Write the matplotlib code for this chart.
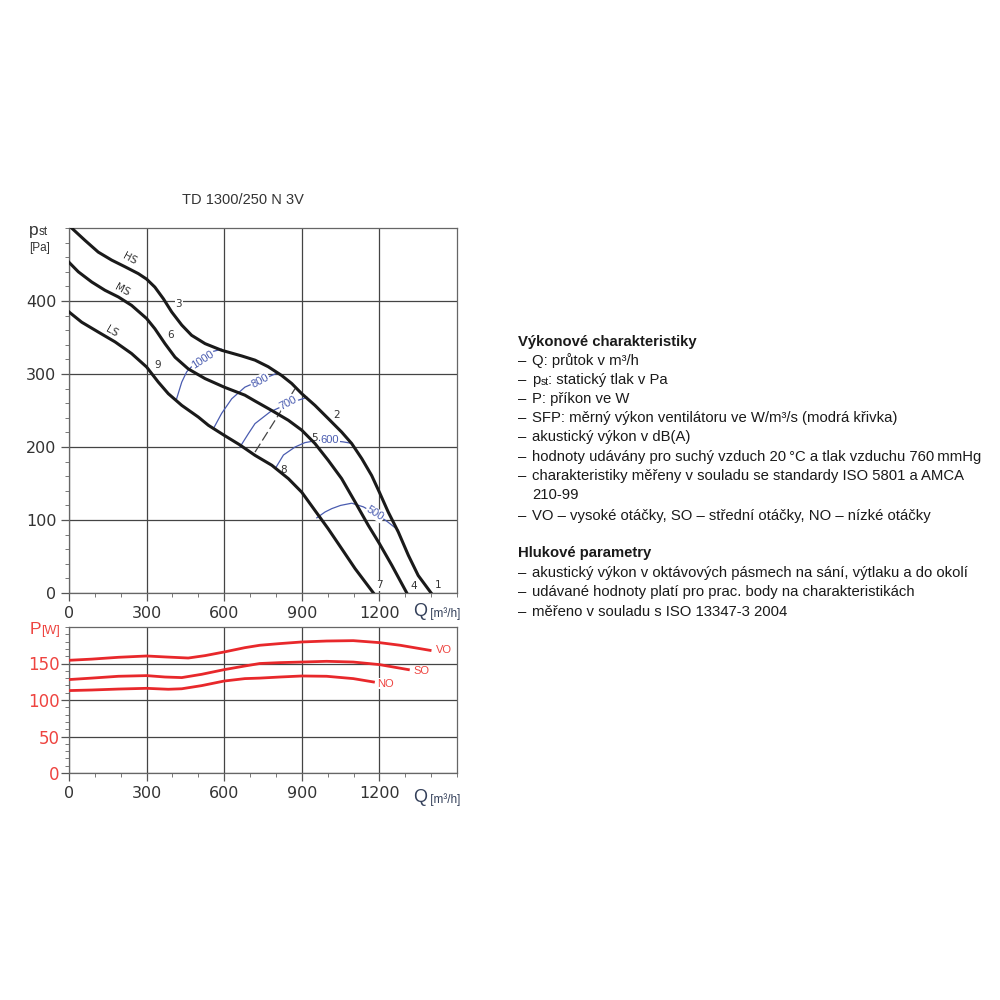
import matplotlib
matplotlib.use("Agg")
import matplotlib.pyplot as plt
from matplotlib.ticker import MultipleLocator

plt.rcParams['font.family'] = ['Liberation Sans', 'DejaVu Sans']

# charakteristiky ventilatoru (Q v m3/h, pst v Pa)
q_hs = [10, 62, 113, 165, 216, 268, 300, 332, 365, 397, 436, 474, 526, 590, 668, 719, 770, 822, 861,
        900, 951, 1002, 1054, 1093, 1132, 1170, 1200, 1234, 1273, 1312, 1350, 1400]
p_hs = [500, 483, 467, 456, 447, 437.5, 430, 419, 403, 385, 367, 353, 341.6, 332.5, 324.7, 319, 310, 298, 287,
        273, 257, 239, 220.5, 204.7, 184, 161, 138, 111, 83.6, 51.6, 24, 0]
q_ms = [0, 36, 88, 139, 191, 242, 300, 332, 371, 410, 461, 526, 600, 680, 719, 784, 848, 900, 951,
        1002, 1054, 1106, 1157, 1200, 1248, 1306]
p_ms = [453, 440, 426, 414.7, 405.5, 394, 376, 362, 341.6, 323, 307, 293.7, 282, 271, 263, 250, 236.6, 223, 204.7,
        181.8, 156.7, 124.7, 92.7, 67.7, 38, 0]
q_ls = [0, 49, 113, 178, 242, 300, 345, 384, 436, 500, 539, 600, 660, 719, 784, 848, 900, 951, 1002,
        1054, 1106, 1177]
p_ls = [385, 371, 357.5, 344, 328, 309.6, 289, 273, 257, 241, 229.7, 216, 203, 188.6, 175, 156.7, 138, 113, 88,
        60.8, 33.4, 0]

# SFP krivky (modre)
q_1000 = [416, 436, 455, 474, 517, 558, 590]
p_1000 = [266, 289, 303, 310, 320, 331, 334]
q_800 = [558, 590, 629, 680, 738, 803]
p_800 = [225, 246, 266, 282, 291, 301]
q_700 = [661, 693, 719, 777, 848, 920]
p_700 = [200, 218, 232, 248, 259.6, 268]
q_600 = [800, 829, 874, 912, 960, 1009, 1060, 1093]
p_600 = [172, 189, 200, 206, 209, 209, 207, 205]
q_500 = [958, 990, 1016, 1050, 1093, 1138, 1183, 1230, 1273]
p_500 = [103, 111, 115.6, 120, 123, 118, 109, 98, 86]
q_dash = [719, 874]
p_dash = [193, 280]

# prikon (W)
q_vo = [0, 88, 191, 300, 371, 461, 526, 600, 680, 738, 816, 900, 996, 1099, 1200, 1280, 1396]
p_vo = [154.4, 156, 158.5, 160.3, 159, 157.5, 160.8, 165.8, 171.7, 175, 177.3, 179.5, 180.8, 181.3, 178.6, 175, 168]
q_so = [0, 88, 191, 300, 371, 436, 513, 600, 680, 738, 816, 900, 996, 1099, 1200, 1312]
p_so = [128, 130, 132.5, 133.4, 131.5, 130.7, 135.2, 141.6, 146.6, 150, 151.2, 152, 153, 152, 148.5, 141.6]
q_no = [0, 88, 191, 300, 384, 436, 513, 600, 680, 738, 816, 900, 996, 1099, 1177]
p_no = [112.9, 113.7, 115, 116, 114.7, 115.4, 119.7, 126, 129.3, 130, 131.5, 132.9, 132.5, 129.3, 124.7]

x_ticks = [0, 300, 600, 900, 1200]
y_ticks_top = [0, 100, 200, 300, 400]
y_ticks_bot = [0, 50, 100, 150]

body_pts = ['1', '2', '3', '4', '5', '6', '7', '8', '9']
body_q = [1428, 1035, 425, 1331, 950, 393, 1200, 830, 343]
body_p = [10.5, 244, 395.5, 9.6, 212, 354, 10.5, 168, 312]

DARK = '#333333'
BLUE = '#4a5cb0'
RED = '#e8282b'
REDTXT = '#ee4440'
QCOL = '#34405a'

fig = plt.figure(figsize=(10, 10), dpi=100)

def style_axes(ax, ymax, yminor, ycol, ypad, ytick_size):
    ax.set_xlim(0, 1500)
    ax.set_ylim(0, ymax)
    ax.set_xticks(x_ticks)
    ax.xaxis.set_minor_locator(MultipleLocator(100))
    ax.yaxis.set_minor_locator(MultipleLocator(yminor))
    ax.grid(True, which='major', color='#444444', lw=0.9)
    ax.set_axisbelow(True)
    for s in ax.spines.values():
        s.set_color('#666666')
        s.set_linewidth(0.9)
    ax.tick_params(which='major', direction='out', length=6, width=0.9, color='#555555')
    ax.tick_params(which='minor', direction='out', length=3, width=0.7, color='#777777')
    ax.tick_params(axis='x', labelsize=11.5, labelcolor=DARK, pad=3)
    ax.tick_params(axis='y', labelsize=ytick_size, labelcolor=ycol, pad=ypad)
    for lab in ax.get_xticklabels() + ax.get_yticklabels():
        lab.set_family('DejaVu Sans')

# --- horni graf: pst ---
ax = fig.add_axes([0.069, 0.407, 0.388, 0.365])
ax.set_yticks(y_ticks_top)
style_axes(ax, 500, 20, DARK, 3, 11.5)

for q, p in [(q_hs, p_hs), (q_ms, p_ms), (q_ls, p_ls)]:
    ax.plot(q, p, color='#1a1a1a', lw=2.2, solid_joinstyle='round', zorder=4)

for q, p in [(q_1000, p_1000), (q_800, p_800), (q_700, p_700), (q_600, p_600), (q_500, p_500)]:
    ax.plot(q, p, color=BLUE, lw=0.9, solid_joinstyle='round', zorder=3)
ax.plot(q_dash, p_dash, color='#444444', lw=0.9, ls=(0, (8, 3)), zorder=3)

sfp_box = dict(facecolor='white', edgecolor='none', pad=0.6)
ax.text(517, 320, '1000', color=BLUE, fontsize=8, rotation=33, ha='center', va='center', bbox=sfp_box, zorder=3.5)
ax.text(738, 291, '800', color=BLUE, fontsize=8, rotation=28, ha='center', va='center', bbox=sfp_box, zorder=3.5)
ax.text(848, 260, '700', color=BLUE, fontsize=8, rotation=28, ha='center', va='center', bbox=sfp_box, zorder=3.5)
ax.text(1009, 209, '600', color=BLUE, fontsize=8, ha='center', va='center', bbox=sfp_box, zorder=3.5)
ax.text(1183, 109, '500', color=BLUE, fontsize=8, rotation=-32, ha='center', va='center', bbox=sfp_box, zorder=3.5)

for lab, q, p in zip(body_pts, body_q, body_p):
    ax.text(q, p, lab, color=DARK, fontsize=7.5, family='DejaVu Sans', ha='center', va='center',
            bbox=dict(facecolor='white', edgecolor='none', pad=0.4), zorder=3.6)

ax.text(233, 458, 'HS', fontsize=7.5, color=DARK, family='DejaVu Sans', rotation=-28, ha='center', va='center', zorder=5)
ax.text(204, 415, 'MS', fontsize=7.5, color=DARK, family='DejaVu Sans', rotation=-28, ha='center', va='center', zorder=5)
ax.text(167, 358, 'LS', fontsize=7.5, color=DARK, family='DejaVu Sans', rotation=-30, ha='center', va='center', zorder=5)

# --- dolni graf: prikon ---
ax2 = fig.add_axes([0.069, 0.227, 0.388, 0.146])
ax2.set_yticks(y_ticks_bot)
style_axes(ax2, 200, 10, REDTXT, 1, 12)
ax2.plot(q_vo, p_vo, color=RED, lw=2, solid_joinstyle='round', zorder=4)
ax2.plot(q_so, p_so, color=RED, lw=2, solid_joinstyle='round', zorder=4)
ax2.plot(q_no, p_no, color=RED, lw=2, solid_joinstyle='round', zorder=4)
ax2.text(1418, 168, 'VO', color=REDTXT, fontsize=8, va='center')
ax2.text(1331, 140, 'SO', color=REDTXT, fontsize=8, va='center')
ax2.text(1192, 122, 'NO', color=REDTXT, fontsize=8, va='center',
         bbox=dict(facecolor='white', edgecolor='none', pad=0.3))

# --- popisky os ---
fig.text(0.243, 0.80, 'TD 1300/250 N 3V', fontsize=10.5, color=DARK, ha='center', va='center')

tp = fig.text(0.029, 0.765, 'p', fontsize=12.5, color=DARK, va='baseline')
ax.annotate('st', xy=(1, 0), xycoords=tp, fontsize=8.5, color=DARK, va='bottom', annotation_clip=False)
fig.text(0.029, 0.749, '[Pa]', fontsize=8.5, color=DARK, va='baseline')

for yb in (0.384, 0.198):
    tq = fig.text(0.413, yb, 'Q', fontsize=13, color=QCOL, va='baseline')
    ax.annotate(' [m³/h]', xy=(1, 0), xycoords=tq, fontsize=8.5, color=QCOL, va='bottom', annotation_clip=False)

tP = fig.text(0.030, 0.366, 'P', fontsize=12.5, color=REDTXT, va='baseline')
ax.annotate('[W]', xy=(1, 0), xycoords=tP, fontsize=9, color=REDTXT, va='bottom', annotation_clip=False)

# --- textovy blok ---
x_dash = 0.518
x_txt = 0.532
fs = 10.7
lines = [
    (0.658, None, 'Výkonové charakteristiky'),
    (0.639, '–', 'Q: průtok v m³/h'),
    (0.620, '–', 'PST'),
    (0.601, '–', 'P: příkon ve W'),
    (0.582, '–', 'SFP: měrný výkon ventilátoru ve W/m³/s (modrá křivka)'),
    (0.563, '–', 'akustický výkon v dB(A)'),
    (0.543, '–', 'hodnoty udávány pro suchý vzduch 20\u2009°C a tlak vzduchu 760\u2009mmHg'),
    (0.524, '–', 'charakteristiky měřeny v souladu se standardy ISO 5801 a AMCA'),
    (0.505, None, '210-99'),
    (0.484, '–', 'VO – vysoké otáčky, SO – střední otáčky, NO – nízké otáčky'),
    (0.447, None, 'Hlukové parametry'),
    (0.427, '–', 'akustický výkon v oktávových pásmech na sání, výtlaku a do okolí'),
    (0.408, '–', 'udávané hodnoty platí pro prac. body na charakteristikách'),
    (0.388, '–', 'měřeno v souladu s ISO 13347-3 2004'),
]
for y, dash, txt in lines:
    if dash is None and txt in ('Výkonové charakteristiky', 'Hlukové parametry'):
        fig.text(x_dash, y, txt, fontsize=fs, fontweight='bold', color='#1a1a1a', va='center')
        continue
    if dash:
        fig.text(x_dash, y, dash, fontsize=fs, color='#1a1a1a', va='center')
    if txt == 'PST':
        t1 = fig.text(x_txt, y, 'p', fontsize=fs, color='#1a1a1a', va='center')
        t2 = ax.annotate('st', xy=(1, 0), xycoords=t1, fontsize=7.5, color='#1a1a1a', va='bottom', annotation_clip=False)
        ax.annotate(': statický tlak v Pa', xy=(1, 0), xycoords=t2, fontsize=fs, color='#1a1a1a', va='bottom', annotation_clip=False)
    else:
        fig.text(x_txt, y, txt, fontsize=fs, color='#1a1a1a', va='center')

fig.savefig('out.png', dpi=100, facecolor='white')
